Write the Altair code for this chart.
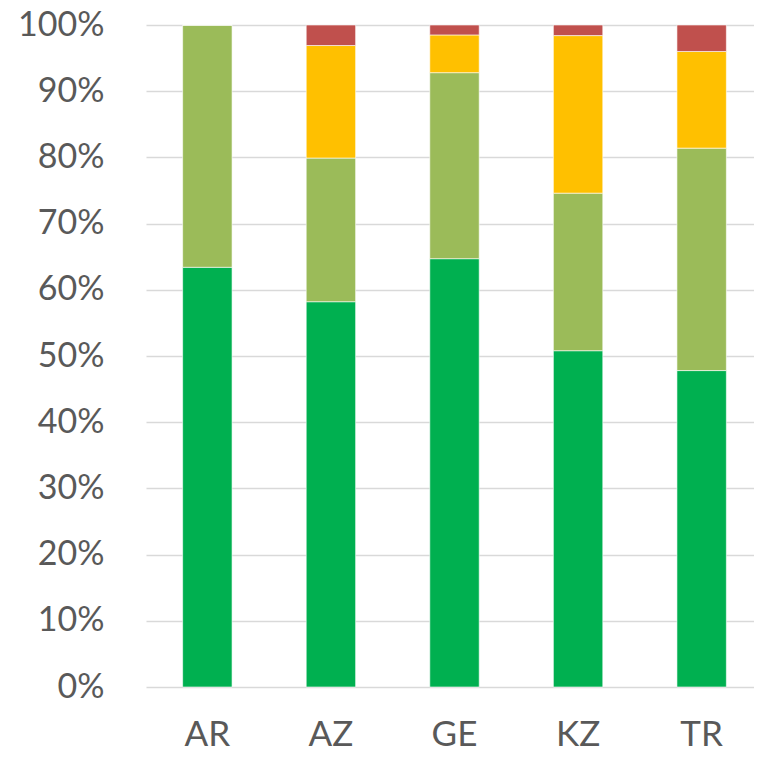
import altair as alt
import pandas as pd

countries = ["AR", "AZ", "GE", "KZ", "TR"]
categories = ["c1", "c2", "c3", "c4"]
colors = ["#00B050", "#9BBB59", "#FFC000", "#C0504D"]
c1 = [63.4, 58.2, 64.7, 50.8, 47.8]
c2 = [36.6, 21.7, 28.1, 23.8, 33.6]
c3 = [0.0, 17.0, 5.7, 23.8, 14.6]
c4 = [0.0, 3.1, 1.5, 1.6, 4.0]

rows = []
for i, c in enumerate(countries):
    for k, (cat, vals) in enumerate(zip(categories, [c1, c2, c3, c4])):
        rows.append({"country": c, "cat": cat, "order": k, "value": vals[i] / 100})
df = pd.DataFrame(rows)

chart = alt.Chart(df).mark_bar(stroke="white", strokeWidth=0.6).encode(
    x=alt.X("country:N", sort=countries, title=None,
            scale=alt.Scale(paddingInner=0.6, paddingOuter=0.26, align=0.57),
            axis=alt.Axis(labelAngle=0, labelFontSize=35, labelFont="Lato",
                          labelColor="#595959", ticks=False, domain=False,
                          labelPadding=30)),
    y=alt.Y("value:Q", stack="zero", title=None,
            scale=alt.Scale(domain=[0, 1], nice=False),
            axis=alt.Axis(format=".0%", values=[i / 10 for i in range(11)],
                          labelFontSize=34, labelFont="Lato", labelColor="#595959",
                          ticks=False, domain=False, labelPadding=42,
                          grid=True, gridColor="#D9D9D9", gridWidth=1.5)),
    color=alt.Color("cat:N", scale=alt.Scale(domain=categories, range=colors), legend=None),
    order=alt.Order("order:Q"),
).properties(
    width=608, height=662,
    autosize=alt.AutoSizeParams(type="none"),
    padding={"left": 138, "top": 17, "right": 0, "bottom": 65},
).configure_view(stroke=None)

chart.save("out.html", embed_options={"renderer": "svg", "actions": False})
